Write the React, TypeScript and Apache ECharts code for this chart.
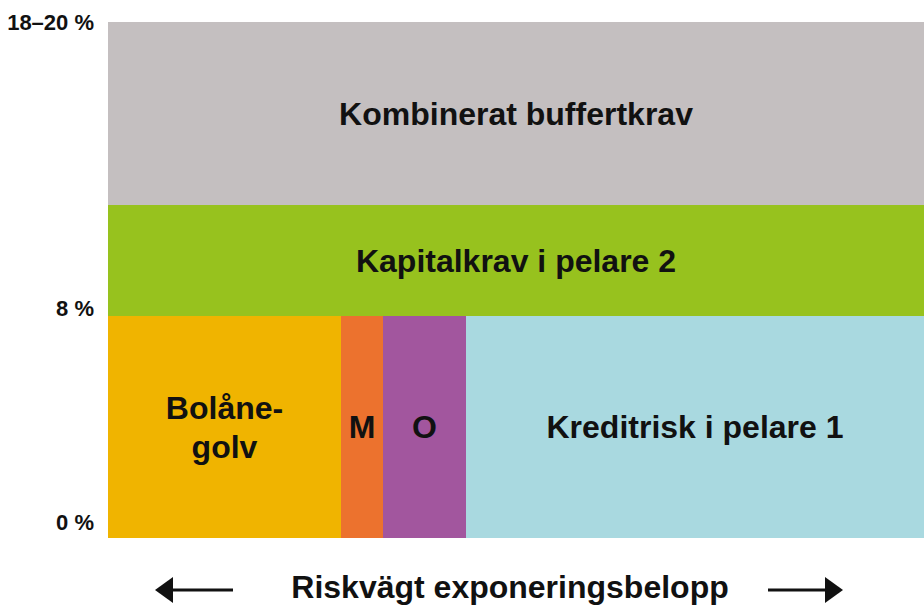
import React, { useEffect, useRef } from "react";
import * as echarts from "echarts";

// Block diagram data (x in relative exposure units, y in % of risk-weighted exposure)
const blockLabels = [
  "Bolåne-\ngolv",
  "M",
  "O",
  "Kreditrisk i pelare 1",
  "Kapitalkrav i pelare 2",
  "Kombinerat buffertkrav",
];
const xStart = [0, 233, 275, 358, 0, 0];
const xEnd = [233, 275, 358, 816, 816, 816];
const yStart = [0, 0, 0, 0, 8, 12];
const yEnd = [8, 8, 8, 8, 12, 18.6];
const blockColors = ["#F0B400", "#EC722E", "#A2569E", "#A9D9E0", "#97C21E", "#C4BFC0"];

const yTickValues = [0, 8, 18.6];
const yTickLabels = ["0 %", "8 %", "18–20 %"];
const xAxisTitle = "Riskvägt exponeringsbelopp";

export default function App() {
  const ref = useRef<HTMLDivElement>(null);

  useEffect(() => {
    if (!ref.current) return;
    const chart = echarts.init(ref.current, null, { renderer: "svg" });
    const data = blockLabels.map((l, i) => [xStart[i], xEnd[i], yStart[i], yEnd[i], i]);
    const font = "Liberation Sans, Arial, sans-serif";

    chart.setOption({
      animation: false,
      grid: { left: 108, right: 0, top: 22, bottom: 67 },
      xAxis: { type: "value", min: 0, max: 816, show: false },
      yAxis: {
        type: "value",
        min: 0,
        max: 18.6,
        splitLine: { show: false },
        axisLine: { show: false },
        axisTick: { show: false },
        axisLabel: {
          customValues: yTickValues,
          margin: 14,
          formatter: (v: number) => {
            const idx = yTickValues.findIndex((t) => Math.abs(t - v) < 1e-6);
            if (idx < 0) return "";
            const style = ["z", "e", "t"][idx];
            return `{${style}|${yTickLabels[idx]}}`;
          },
          rich: {
            z: { fontFamily: font, fontWeight: "bold", fontSize: 22, color: "#111", padding: [0, 0, 32, 0] },
            e: { fontFamily: font, fontWeight: "bold", fontSize: 22, color: "#111", padding: [0, 0, 16, 0] },
            t: { fontFamily: font, fontWeight: "bold", fontSize: 22, color: "#111", padding: [0, 0, 0, 0] },
          },
        },
      },
      series: [
        {
          type: "custom",
          data,
          renderItem: (params: any, api: any) => {
            const x0 = api.value(0), x1 = api.value(1), y0 = api.value(2), y1 = api.value(3);
            const i = api.value(4);
            const p0 = api.coord([x0, y1]);
            const p1 = api.coord([x1, y0]);
            return {
              type: "rect",
              shape: { x: p0[0], y: p0[1], width: p1[0] - p0[0], height: p1[1] - p0[1] },
              style: { fill: blockColors[i] },
              textContent: {
                style: {
                  text: blockLabels[i],
                  fontFamily: font,
                  fontWeight: "bold",
                  fontSize: 32,
                  lineHeight: 39,
                  fill: "#111",
                  align: "center",
                  verticalAlign: "middle",
                },
              },
              textConfig: { position: "inside" },
            };
          },
        },
      ],
      graphic: [
        {
          type: "text",
          x: 510,
          y: 587,
          style: {
            text: xAxisTitle,
            fontFamily: font,
            fontWeight: "bold",
            fontSize: 32,
            fill: "#111",
            align: "center",
            verticalAlign: "middle",
          },
        },
        { type: "line", shape: { x1: 168, y1: 590, x2: 233, y2: 590 }, style: { stroke: "#111", lineWidth: 3 } },
        { type: "polygon", shape: { points: [[155, 590], [173, 577], [173, 603]] }, style: { fill: "#111" } },
        { type: "line", shape: { x1: 768, y1: 590, x2: 830, y2: 590 }, style: { stroke: "#111", lineWidth: 3 } },
        { type: "polygon", shape: { points: [[843, 590], [825, 577], [825, 603]] }, style: { fill: "#111" } },
      ],
    });
    return () => chart.dispose();
  }, []);

  return (
    <div
      ref={ref}
      style={{ position: "fixed", left: 0, top: 0, width: 924, height: 605, background: "#fff" }}
    />
  );
}
